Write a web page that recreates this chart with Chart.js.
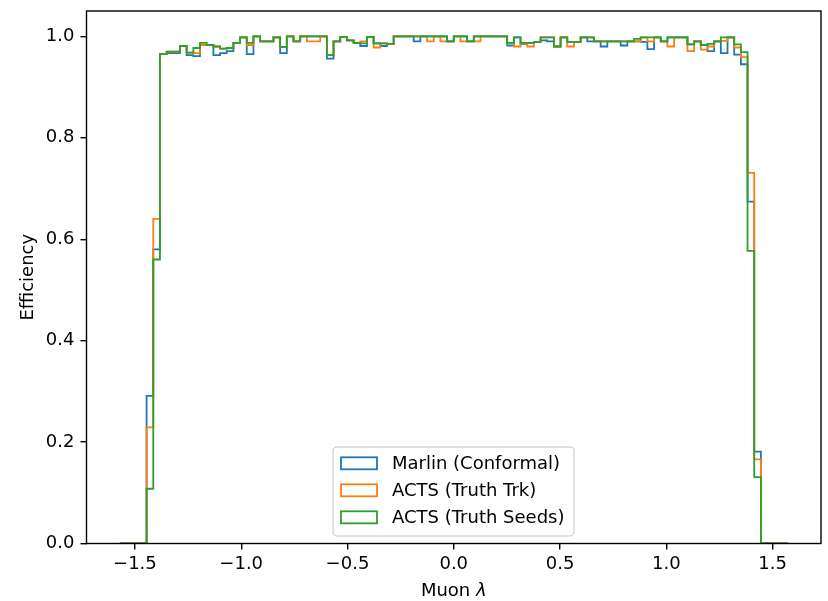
<!DOCTYPE html>
<html>
<head>
<meta charset="utf-8">
<title>Muon efficiency</title>
<script src="https://cdn.jsdelivr.net/npm/chart.js@4.4.1/dist/chart.umd.min.js"></script>
<style>
    html, body { margin: 0; padding: 0; background: #fff; }
    #wrap { width: 828px; height: 601px; position: relative; }
</style>
</head>
<body>
<div id="wrap"><canvas id="eff-chart"></canvas></div>
<script>
// Binning: 100 bins in Muon lambda from -pi/2 to pi/2
var lambdaMin = -Math.PI / 2;
var lambdaMax = Math.PI / 2;
var nBins = 100;

var seriesNames = ["Marlin (Conformal)", "ACTS (Truth Trk)", "ACTS (Truth Seeds)"];
var seriesColors = ["#1f77b4", "#ff7f0e", "#2ca02c"];

// Efficiency per bin
var marlinEff = [
    0, 0, 0, 0, 0.291, 0.580, 0.965, 0.967, 0.967, 0.981,
    0.963, 0.961, 0.983, 0.983, 0.963, 0.967, 0.971, 0.987, 0.998, 0.965,
    1.000, 0.990, 0.990, 0.998, 0.967, 1.000, 0.990, 1.000, 1.000, 1.000,
    1.000, 0.956, 0.990, 0.999, 0.992, 0.987, 0.981, 0.999, 0.986, 0.981,
    0.985, 1.000, 1.000, 1.000, 0.990, 1.000, 1.000, 1.000, 1.000, 0.990,
    1.000, 1.000, 0.990, 1.000, 1.000, 1.000, 1.000, 1.000, 0.982, 0.998,
    0.985, 0.987, 0.989, 0.992, 0.990, 0.980, 0.998, 0.989, 0.989, 0.998,
    0.990, 0.990, 0.980, 0.990, 0.990, 0.982, 0.990, 0.990, 0.989, 0.975,
    0.998, 0.990, 0.998, 0.998, 0.998, 0.984, 0.990, 0.983, 0.971, 0.990,
    0.967, 0.998, 0.964, 0.945, 0.674, 0.181, 0, 0, 0, 0
];
var actsTrkEff = [
    0, 0, 0, 0, 0.229, 0.640, 0.965, 0.970, 0.970, 0.981,
    0.968, 0.967, 0.983, 0.983, 0.980, 0.976, 0.977, 0.987, 0.998, 0.983,
    1.000, 0.990, 0.990, 0.998, 0.979, 1.000, 0.990, 1.000, 0.990, 0.990,
    1.000, 0.963, 0.990, 0.999, 0.992, 0.987, 0.990, 0.999, 0.978, 0.986,
    0.985, 1.000, 1.000, 1.000, 1.000, 1.000, 0.990, 1.000, 0.990, 0.990,
    1.000, 0.990, 0.990, 0.990, 1.000, 1.000, 1.000, 1.000, 0.987, 0.980,
    0.987, 0.980, 0.989, 0.998, 0.998, 0.980, 0.998, 0.980, 0.989, 0.998,
    0.998, 0.990, 0.990, 0.990, 0.990, 0.990, 0.990, 0.990, 0.998, 0.990,
    0.998, 0.990, 0.980, 0.998, 0.998, 0.971, 0.990, 0.974, 0.980, 0.990,
    0.991, 0.998, 0.978, 0.959, 0.731, 0.166, 0, 0, 0, 0
];
var actsSeedEff = [
    0, 0, 0, 0, 0.108, 0.560, 0.965, 0.970, 0.970, 0.981,
    0.968, 0.977, 0.987, 0.983, 0.980, 0.976, 0.977, 0.987, 0.998, 0.987,
    1.000, 0.990, 0.990, 0.998, 0.979, 1.000, 0.990, 1.000, 1.000, 1.000,
    1.000, 0.963, 0.990, 0.999, 0.992, 0.987, 0.986, 0.999, 0.986, 0.986,
    0.985, 1.000, 1.000, 1.000, 1.000, 1.000, 1.000, 1.000, 1.000, 0.990,
    1.000, 1.000, 0.990, 1.000, 1.000, 1.000, 1.000, 1.000, 0.987, 0.998,
    0.987, 0.987, 0.989, 0.998, 0.998, 0.980, 0.998, 0.989, 0.989, 0.998,
    0.998, 0.990, 0.990, 0.990, 0.990, 0.990, 0.990, 0.995, 0.998, 0.998,
    0.998, 0.990, 0.998, 0.998, 0.998, 0.984, 0.990, 0.983, 0.985, 0.990,
    0.998, 0.998, 0.984, 0.969, 0.577, 0.131, 0, 0, 0, 0
];

var xTicks = [-1.5, -1.0, -0.5, 0.0, 0.5, 1.0, 1.5];
var yTicks = [0.0, 0.2, 0.4, 0.6, 0.8, 1.0];

var FONT = "'DejaVu Sans', sans-serif";

// bin edges
var binWidth = (lambdaMax - lambdaMin) / nBins;
var edges = [];
for (var i = 0; i <= nBins; i++) edges.push(lambdaMin + i * binWidth);

// step outline: value of each bin starts at its left edge, closed at the last edge
function stepPoints(vals) {
    var pts = vals.map(function (v, i) { return {x: edges[i], y: v}; });
    pts.push({x: edges[nBins], y: 0});
    return pts;
}

function fmt(v) {
    var s = Math.abs(v).toFixed(1);
    return v < -1e-9 ? "\u2212" + s : s;
}

// Frame, axis titles and legend, matplotlib style
var decorPlugin = {
    id: "decor",
    afterDatasetsDraw: function (chart) {
        var ctx = chart.ctx;
        var a = chart.chartArea;
        ctx.save();
        ctx.strokeStyle = "#000";
        ctx.lineWidth = 1.4;
        ctx.strokeRect(a.left, a.top, a.right - a.left, a.bottom - a.top);
        ctx.restore();
    },
    afterDraw: function (chart) {
        var ctx = chart.ctx;
        var a = chart.chartArea;
        var cx = (a.left + a.right) / 2;
        var cy = (a.top + a.bottom) / 2;
        ctx.save();
        ctx.fillStyle = "#000";
        ctx.textBaseline = "middle";

        // x title with italic lambda
        ctx.font = "18px " + FONT;
        var w1 = ctx.measureText("Muon ").width;
        ctx.font = "italic 18px " + FONT;
        var w2 = ctx.measureText("\u03bb").width;
        var x0 = cx - (w1 + w2) / 2;
        ctx.textAlign = "left";
        ctx.font = "18px " + FONT;
        ctx.fillText("Muon ", x0, 591);
        ctx.font = "italic 18px " + FONT;
        ctx.fillText("\u03bb", x0 + w1, 591);

        // y title
        ctx.font = "18px " + FONT;
        ctx.textAlign = "center";
        ctx.translate(28, cy);
        ctx.rotate(-Math.PI / 2);
        ctx.fillText("Efficiency", 0, 0);
        ctx.restore();

        // legend
        var lx = 333, ly = 447, lw = 241, lh = 89, r = 4;
        ctx.save();
        ctx.beginPath();
        ctx.moveTo(lx + r, ly);
        ctx.arcTo(lx + lw, ly, lx + lw, ly + lh, r);
        ctx.arcTo(lx + lw, ly + lh, lx, ly + lh, r);
        ctx.arcTo(lx, ly + lh, lx, ly, r);
        ctx.arcTo(lx, ly, lx + lw, ly, r);
        ctx.closePath();
        ctx.fillStyle = "rgba(255,255,255,0.8)";
        ctx.fill();
        ctx.strokeStyle = "#d6d6d6";
        ctx.lineWidth = 1.4;
        ctx.stroke();

        var rows = [463.3, 490.3, 517.3];
        ctx.font = "18px " + FONT;
        ctx.textAlign = "left";
        ctx.textBaseline = "middle";
        for (var k = 0; k < seriesNames.length; k++) {
            ctx.fillStyle = "#fff";
            ctx.fillRect(341, rows[k] - 6, 36, 12);
            ctx.strokeStyle = seriesColors[k];
            ctx.lineWidth = 1.8;
            ctx.strokeRect(341, rows[k] - 6, 36, 12);
            ctx.fillStyle = "#000";
            ctx.fillText(seriesNames[k], 392, rows[k] + 1);
        }
        ctx.restore();
    }
};

var ctx1 = document.getElementById("eff-chart").getContext("2d");
var effChart = new Chart(ctx1, {
    type: "line",
    data: {
        datasets: [
            {label: seriesNames[0], data: stepPoints(marlinEff), borderColor: seriesColors[0], order: 3},
            {label: seriesNames[1], data: stepPoints(actsTrkEff), borderColor: seriesColors[1], order: 2},
            {label: seriesNames[2], data: stepPoints(actsSeedEff), borderColor: seriesColors[2], order: 1}
        ]
    },
    options: {
        responsive: true,
        maintainAspectRatio: false,
        animation: false,
        layout: {padding: {top: 11, right: 7, left: 0, bottom: 0}},
        elements: {
            line: {stepped: "before", borderWidth: 1.8, fill: false, tension: 0, backgroundColor: "rgba(0,0,0,0)"},
            point: {radius: 0, hoverRadius: 0}
        },
        plugins: {legend: {display: false}, tooltip: {enabled: false}},
        scales: {
            x: {
                type: "linear",
                min: lambdaMin * 1.1,
                max: lambdaMax * 1.1,
                afterBuildTicks: function (s) { s.ticks = xTicks.map(function (v) { return {value: v}; }); },
                afterFit: function (s) { s.height = 57.5; s.paddingLeft = 0; s.paddingRight = 0; },
                ticks: {color: "#000", font: {family: FONT, size: 18}, padding: 4, maxRotation: 0,
                    callback: function (v) { return fmt(v); }},
                grid: {drawOnChartArea: false, drawTicks: true, tickLength: 6, color: "#000", lineWidth: 1.4},
                border: {display: false}
            },
            y: {
                min: 0,
                max: 1.05,
                afterBuildTicks: function (s) { s.ticks = yTicks.map(function (v) { return {value: v}; }); },
                afterFit: function (s) { s.width = 86.5; s.paddingTop = 0; s.paddingBottom = 0; },
                ticks: {color: "#000", font: {family: FONT, size: 18}, padding: 6,
                    callback: function (v) { return fmt(v); }},
                grid: {drawOnChartArea: false, drawTicks: true, tickLength: 6, color: "#000", lineWidth: 1.4},
                border: {display: false}
            }
        }
    },
    plugins: [decorPlugin]
});
</script>
</body>
</html>
